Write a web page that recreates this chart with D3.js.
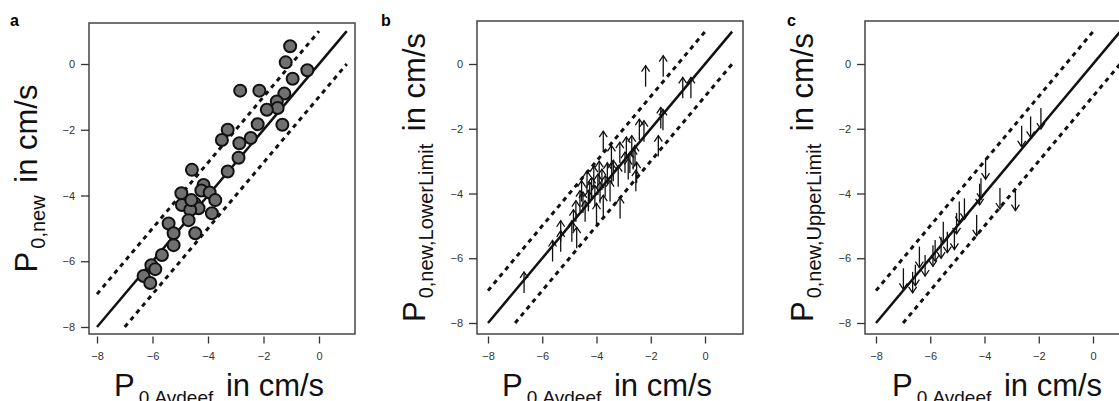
<!DOCTYPE html>
<html>
<head>
<meta charset="utf-8">
<script src="https://cdn.jsdelivr.net/npm/d3@7"></script>
<style>
  html, body { margin: 0; padding: 0; background: #fff; overflow: hidden; }
  svg { display: block; font-family: "Liberation Sans", Arial, sans-serif; }
</style>
</head>
<body>
<svg id="chart" width="1119" height="401"></svg>
<script>
// Data
const tickValues = [-8, -6, -4, -2, 0];

// panel a: measured points
const aX = [-1.04, -1.20, -0.42, -0.95, -2.84, -2.15, -1.25, -1.52, -1.49, -1.88,
            -1.32, -2.21, -3.29, -3.50, -2.46, -2.87, -2.90, -3.29, -4.58, -4.16,
            -4.96, -4.24, -3.94, -3.74, -4.94, -4.48, -4.34, -4.64, -3.86, -4.70,
            -4.46, -5.42, -5.24, -5.24, -5.66, -6.04, -5.90, -6.32, -6.08, -4.60];
const aY = [0.54, 0.05, -0.19, -0.45, -0.81, -0.81, -0.90, -1.14, -1.34, -1.39,
            -1.85, -1.83, -2.00, -2.31, -2.25, -2.41, -2.85, -3.27, -3.22, -3.68,
            -3.93, -3.85, -3.91, -4.14, -4.29, -4.24, -4.39, -4.44, -4.54, -4.75,
            -5.15, -4.85, -5.15, -5.51, -5.81, -6.12, -6.24, -6.45, -6.66, -4.14];

// panel b: lower limits (arrows pointing up)
const bX = [-6.67, -5.62, -5.32, -5.32, -4.91, -4.85, -4.76, -4.73, -4.61, -4.55,
            -4.50, -4.42, -4.35, -4.30, -4.25, -4.18, -4.10, -4.06, -4.00, -3.95,
            -3.90, -3.87, -3.80, -3.75, -3.68, -3.60, -3.50, -3.44, -3.45, -3.38,
            -3.20, -3.14, -3.13, -2.95, -2.83, -2.77, -2.65, -2.58, -2.55, -2.52,
            -3.75, -2.42, -2.25, -2.19, -1.72, -1.63, -1.55, -1.54, -0.82, -0.52,
            -2.90, -2.70];
const bY = [-7.07, -6.10, -5.49, -5.80, -5.49, -5.15, -4.87, -5.69, -4.56, -4.25,
            -4.60, -4.87, -3.95, -4.55, -4.30, -4.15, -3.80, -4.40, -4.95, -4.05,
            -3.65, -4.30, -3.90, -4.70, -4.10, -3.70, -4.25, -3.69, -3.16, -3.62,
            -3.79, -3.06, -4.77, -3.37, -3.57, -3.37, -3.26, -3.16, -3.93, -3.68,
            -2.72, -2.35, -2.40, -0.70, -2.86, -1.99, -2.05, -0.39, -1.06, -1.06,
            -2.90, -2.86];

// panel c: upper limits (arrows pointing down)
const cX = [-1.92, -2.30, -2.63, -3.96, -4.13, -4.18, -3.43, -2.86, -4.29, -4.74,
            -4.93, -5.03, -5.11, -5.37, -5.52, -5.60, -5.82, -5.90, -6.19, -6.40,
            -6.55, -6.65, -6.99];
const cY = [-1.36, -1.62, -1.91, -2.91, -3.53, -3.70, -3.83, -3.88, -4.66, -4.15,
            -4.25, -4.60, -5.08, -5.18, -4.87, -5.35, -5.44, -5.60, -5.90, -5.64,
            -6.20, -6.42, -6.31];

// reference lines: identity and +/- 1 log unit
const refSolid = [[-8, -8], [1, 1]];
const refUpper = [[-8, -7], [0, 1]];
const refLower = [[-7, -8], [1, 0]];

const yTitles = ["0,new", "0,new,LowerLimit", "0,new,UpperLimit"];

const svg = d3.select("#chart");

// layout for each panel (box edges and axis ranges in px)
const panels = [
    { letter: "a", lx: 10, box: [89, 23, 355, 334], xr: [97, 319], yr: [64, 327], kind: "dot", xs: aX, ys: aY, sub: yTitles[0] },
    { letter: "b", lx: 381, box: [477, 21, 743, 334], xr: [488, 705], yr: [64, 323], kind: "up", xs: bX, ys: bY, sub: yTitles[1] },
    { letter: "c", lx: 787, box: [865, 21, 1135, 334], xr: [876, 1093], yr: [64, 323], kind: "down", xs: cX, ys: cY, sub: yTitles[2] }
];

panels.forEach(p => {
    const [bl, bt, br, bb] = p.box;
    const x = d3.scaleLinear().domain([-8, 0]).range(p.xr);
    const y = d3.scaleLinear().domain([0, -8]).range(p.yr);

    const g = svg.append("g");

    // plot frame
    g.append("rect")
        .attr("x", bl).attr("y", bt)
        .attr("width", br - bl).attr("height", bb - bt)
        .attr("fill", "none")
        .attr("stroke", "#444")
        .attr("stroke-width", 1.5);

    // axes
    const xAxis = g.append("g")
        .attr("transform", `translate(0,${bb + 2.5})`)
        .call(d3.axisBottom(x).tickValues(tickValues).tickSize(7).tickPadding(9));
    const yAxis = g.append("g")
        .attr("transform", `translate(${bl},0)`)
        .call(d3.axisLeft(y).tickValues(tickValues).tickSize(8).tickPadding(6));

    [xAxis, yAxis].forEach(ax => {
        ax.select(".domain").remove();
        ax.selectAll(".tick line").attr("stroke", "#333").attr("stroke-width", 1.3);
        ax.selectAll(".tick text")
            .attr("fill", "#333")
            .style("font-size", "11px")
            .style("font-family", "'Liberation Sans', Arial, sans-serif");
    });

    const line = d3.line().x(d => x(d[0])).y(d => y(d[1]));

    // dashed bands
    [refUpper, refLower].forEach(seg => {
        g.append("path")
            .attr("d", line(seg))
            .attr("fill", "none")
            .attr("stroke", "#111")
            .attr("stroke-width", 3)
            .attr("stroke-dasharray", "4.5,4.5");
    });

    // identity line
    g.append("path")
        .attr("d", line(refSolid))
        .attr("fill", "none")
        .attr("stroke", "#111")
        .attr("stroke-width", 2.5);

    const pts = p.xs.map((v, i) => [v, p.ys[i]]);

    if (p.kind === "dot") {
        g.selectAll(".dot")
            .data(pts)
            .enter()
            .append("circle")
            .attr("class", "dot")
            .attr("cx", d => x(d[0]))
            .attr("cy", d => y(d[1]))
            .attr("r", 6)
            .attr("fill", "#707070")
            .attr("stroke", "#111")
            .attr("stroke-width", 2);
    } else {
        const len = 21;               // arrow length in px
        const dir = p.kind === "up" ? -1 : 1;
        const arrows = g.selectAll(".arrow")
            .data(pts)
            .enter()
            .append("g")
            .attr("class", "arrow")
            .attr("transform", d => `translate(${x(d[0])},${y(d[1])})`);

        arrows.append("line")
            .attr("x1", 0).attr("y1", 0)
            .attr("x2", 0).attr("y2", dir * len)
            .attr("stroke", "#111")
            .attr("stroke-width", 1.3);

        arrows.append("path")
            .attr("d", `M-4,${dir * (len - 6)}L0,${dir * len}L4,${dir * (len - 6)}`)
            .attr("fill", "none")
            .attr("stroke", "#111")
            .attr("stroke-width", 1.3);
    }

    // panel letter
    svg.append("text")
        .attr("x", p.lx).attr("y", 26)
        .style("font-size", "16px")
        .style("font-weight", "bold")
        .text(p.letter);

    // y title
    const yt = svg.append("text")
        .attr("transform", `translate(${bl - 52},${(bt + bb) / 2}) rotate(-90)`)
        .attr("text-anchor", "middle")
        .style("font-size", "31px")
        .attr("fill", "#111");
    yt.append("tspan").text("P");
    yt.append("tspan").attr("dy", 8).attr("dx", 3).style("font-size", "20px").text(p.sub);
    yt.append("tspan").attr("dy", -8).attr("dx", 4).text(" in cm/s");

    // x title
    const xt = svg.append("text")
        .attr("transform", `translate(${(bl + br) / 2 - 3},396)`)
        .attr("text-anchor", "middle")
        .style("font-size", "31px")
        .attr("fill", "#111");
    xt.append("tspan").text("P");
    xt.append("tspan").attr("dy", 8).attr("dx", 4).style("font-size", "19px").text("0,Avdeef");
    xt.append("tspan").attr("dy", -8).attr("dx", 4).text(" in cm/s");
});
</script>
</body>
</html>
